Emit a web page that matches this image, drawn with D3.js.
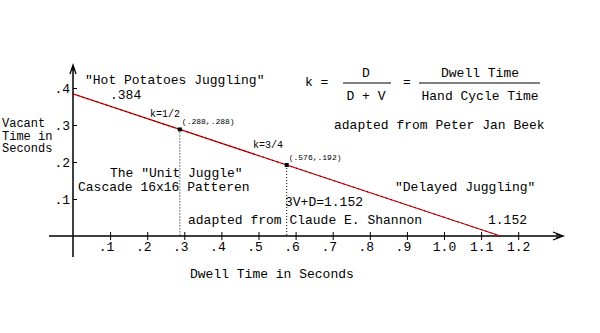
<!DOCTYPE html>
<html>
<head>
<meta charset="utf-8">
<script src="https://cdn.jsdelivr.net/npm/d3@7"></script>
<style>
  body { margin: 0; background: #fff; }
  text { font-family: "Liberation Mono", "Courier New", monospace; fill: #000; }
</style>
</head>
<body>
<div id="chart"></div>
<script>
// Data
const xTickValues = [0.1, 0.2, 0.3, 0.4, 0.5, 0.6, 0.7, 0.8, 0.9, 1.0, 1.1, 1.2];
const xTickLabels = [".1", ".2", ".3", ".4", ".5", ".6", ".7", ".8", ".9", "1.0", "1.1", "1.2"];
const yTickValues = [0.1, 0.2, 0.3, 0.4];
const yTickLabels = [".1", ".2", ".3", ".4"];
const yTitleLines = ["Vacant", "Time in", "Seconds"];

// tradeoff line: dwell time vs vacant time (3V + D = 1.152)
const lineDwell = [0, 1.152];
const lineVacant = [0.384, 0];

// marked points
const pointDwell = [0.288, 0.576];
const pointVacant = [0.288, 0.192];
const pointLabels = ["(.288,.288)", "(.576,.192)"];
const kLabels = ["k=1/2", "k=3/4"];

const width = 600, height = 333;
const svg = d3.select("#chart").append("svg")
  .attr("width", width)
  .attr("height", height)
  .style("display", "block");

const x = d3.scaleLinear().domain([0, 1.2]).range([73, 518.2]);
const y = d3.scaleLinear().domain([0, 0.4]).range([236, 88]);

// Axis lines with arrows
svg.append("line")
  .attr("x1", 49).attr("x2", 563)
  .attr("y1", y(0)).attr("y2", y(0))
  .attr("stroke", "#000").attr("stroke-width", 1.5);
svg.append("path")
  .attr("d", `M553,232 L563,236 L553,240 M556,234 L563,236 L556,238`)
  .attr("stroke", "#000").attr("fill", "none").attr("stroke-width", 1.3);
svg.append("line")
  .attr("x1", x(0)).attr("x2", x(0))
  .attr("y1", 66).attr("y2", 257)
  .attr("stroke", "#000").attr("stroke-width", 1.5);
svg.append("path")
  .attr("d", `M70,74 L73,65 L76,74 M72,70 L73,65 L74,70`)
  .attr("stroke", "#000").attr("fill", "none").attr("stroke-width", 1.3);

// X axis ticks
const xAxis = svg.append("g")
  .attr("transform", `translate(0,${y(0)})`)
  .call(d3.axisBottom(x)
    .tickValues(xTickValues)
    .tickFormat((d, i) => xTickLabels[i])
    .tickSize(4));
xAxis.select(".domain").remove();
xAxis.selectAll(".tick line").attr("y1", -4).attr("stroke-width", 1);
xAxis.selectAll(".tick text")
  .attr("y", 15).attr("dy", 0)
  .attr("dx", (d, i) => xTickLabels[i].length < 3 ? -4 : 0)
  .style("font-family", "Liberation Mono, monospace")
  .style("font-size", "13px");

// Y axis ticks (marks to the right of the axis)
const yAxis = svg.append("g")
  .attr("transform", `translate(${x(0)},0)`)
  .call(d3.axisLeft(y)
    .tickValues(yTickValues)
    .tickFormat((d, i) => yTickLabels[i])
    .tickSizeInner(-4)
    .tickSizeOuter(0)
    .tickPadding(4));
yAxis.select(".domain").remove();
yAxis.selectAll(".tick line").attr("stroke-width", 1);
yAxis.selectAll(".tick text")
  .attr("x", -3)
  .style("font-family", "Liberation Mono, monospace")
  .style("font-size", "13px");

// Dotted drop lines from points to the axis
pointDwell.forEach((d, i) => {
  svg.append("line")
    .attr("x1", x(d)).attr("x2", x(d))
    .attr("y1", y(pointVacant[i])).attr("y2", y(0))
    .attr("stroke", "#000")
    .attr("stroke-width", 1)
    .attr("stroke-dasharray", "1,2");
});

// Main line (red with dark flecks)
const lineData = lineDwell.map((d, i) => [d, lineVacant[i]]);
const line = d3.line().x(d => x(d[0])).y(d => y(d[1]));
svg.append("path")
  .attr("d", line(lineData))
  .attr("stroke", "#d00000")
  .attr("fill", "none")
  .attr("stroke-width", 1.2);
svg.append("path")
  .attr("d", line(lineData))
  .attr("stroke", "#000")
  .attr("fill", "none")
  .attr("stroke-width", 1)
  .attr("stroke-dasharray", "1,4");

// Points
pointDwell.forEach((d, i) => {
  svg.append("rect")
    .attr("x", x(d) - 2).attr("y", y(pointVacant[i]) - 2)
    .attr("width", 4).attr("height", 4)
    .attr("fill", "#000");
});

// Point coordinate labels and k labels
svg.selectAll(".plabel")
  .data(pointLabels)
  .join("text")
  .attr("x", (d, i) => x(pointDwell[i]) + 2)
  .attr("y", (d, i) => y(pointVacant[i]) - 5)
  .style("font-size", "8px")
  .text(d => d);
const kPos = [[150, 117], [253, 148]];
svg.selectAll(".klabel")
  .data(kLabels)
  .join("text")
  .attr("x", (d, i) => kPos[i][0])
  .attr("y", (d, i) => kPos[i][1])
  .style("font-size", "10px")
  .text(d => d);

// Y title, three tight lines
svg.append("text")
  .attr("x", 2).attr("y", 127)
  .style("font-size", "12px")
  .selectAll("tspan")
  .data(yTitleLines)
  .join("tspan")
  .attr("x", 2)
  .attr("dy", (d, i) => i === 0 ? 0 : 12.5)
  .text(d => d);

// Text annotations
function label(txt, tx, ty, anchor = "start") {
  svg.append("text")
    .attr("x", tx).attr("y", ty)
    .attr("text-anchor", anchor)
    .style("font-size", "13px")
    .style("white-space", "pre")
    .text(txt);
}

label("\"Hot Potatoes Juggling\"", 85, 84);
label(".384", 110, 99);
label("The \"Unit Juggle\"", 110, 177);
label("Cascade 16x16 Patteren", 78, 191);
label("3V+D=1.152", 285, 206);
label("adapted from Claude E. Shannon", 188, 224);
label("\"Delayed Juggling\"", 395, 191);
label("1.152", 488, 224);
label("Dwell Time in Seconds", 190, 278);

// Formula
label("k =", 305, 86);
label("D", 366, 77, "middle");
label("D + V", 366, 100, "middle");
label("=", 407, 86, "middle");
label("Dwell Time", 480, 77, "middle");
label("Hand Cycle Time", 480, 100, "middle");
label("adapted from Peter Jan Beek", 334, 129);
svg.append("line").attr("x1", 343).attr("x2", 391).attr("y1", 83).attr("y2", 83)
  .attr("stroke", "#000").attr("stroke-width", 1);
svg.append("line").attr("x1", 419).attr("x2", 540).attr("y1", 83).attr("y2", 83)
  .attr("stroke", "#000").attr("stroke-width", 1);
</script>
</body>
</html>
